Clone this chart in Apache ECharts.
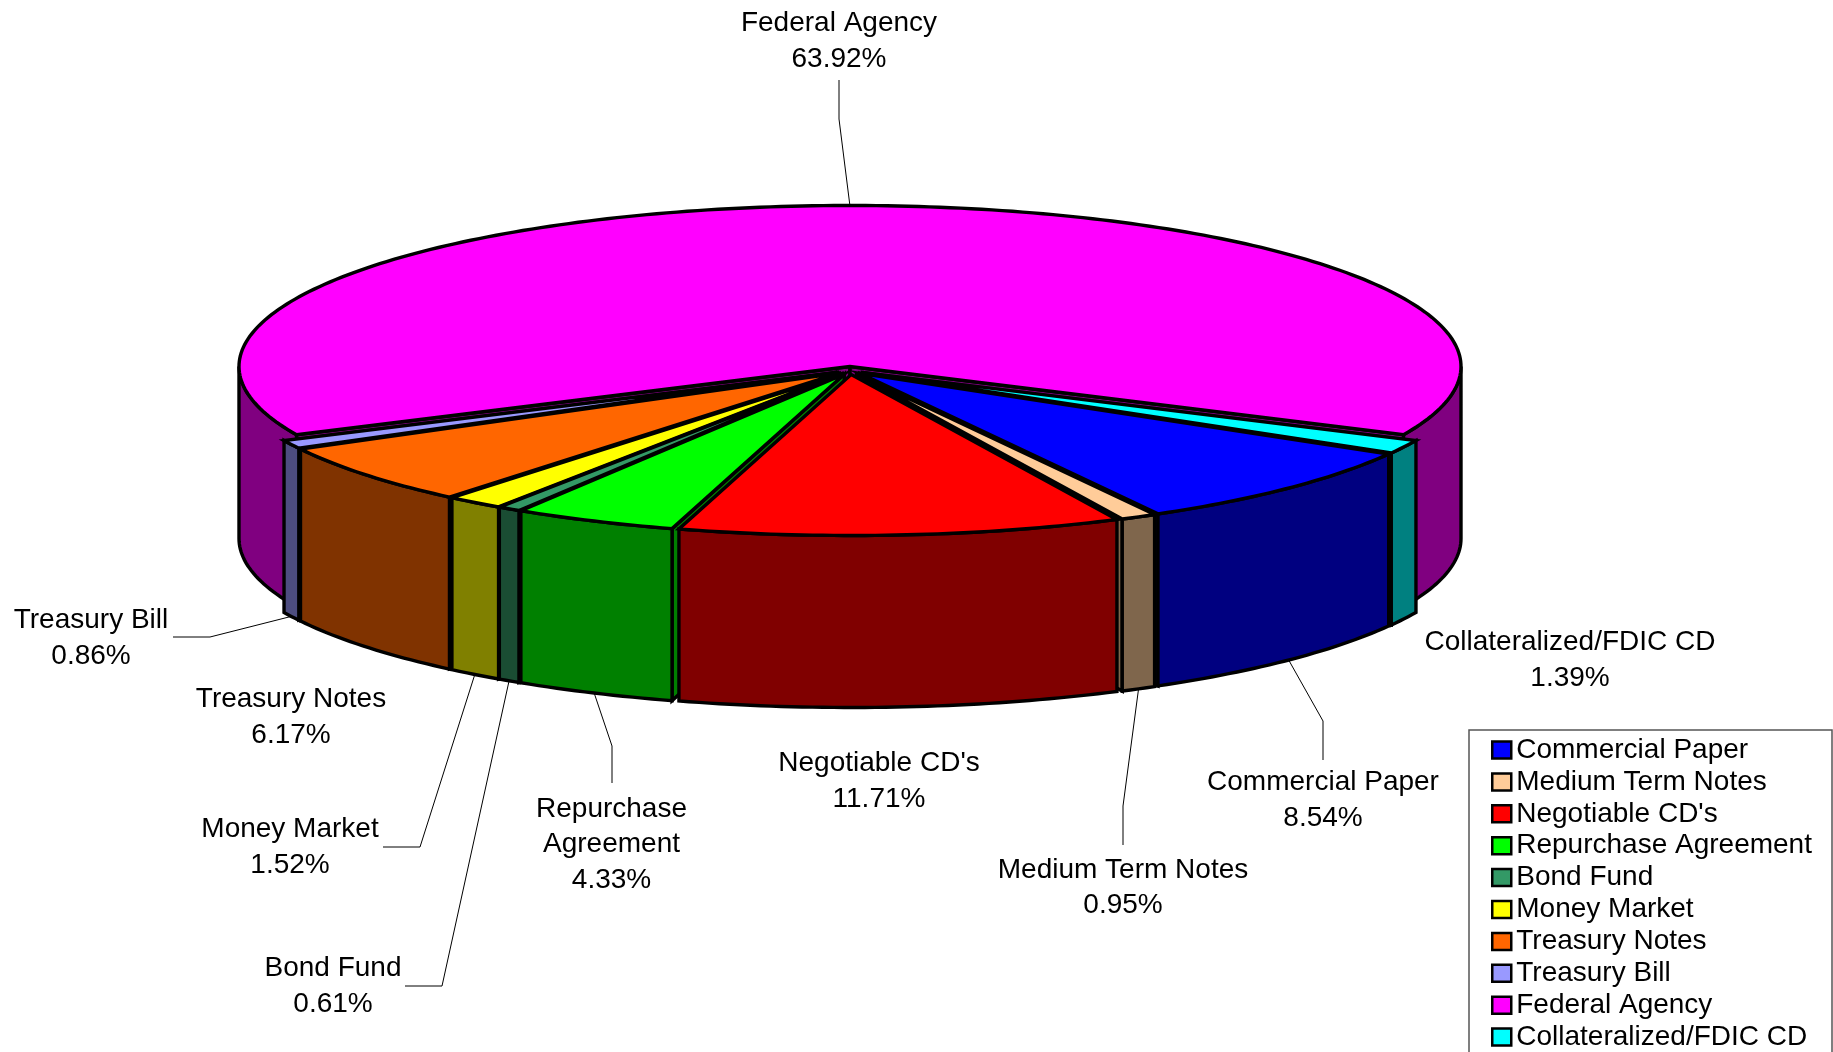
<!DOCTYPE html>
<html>
<head>
<meta charset="utf-8">
<title>Portfolio</title>
<style>
  html, body { margin: 0; padding: 0; background: #fff; }
  #chart { width: 1833px; height: 1052px; }
</style>
</head>
<body>
<div id="chart"></div>
<script src="https://cdn.jsdelivr.net/npm/echarts@6/dist/echarts.min.js"></script>
<script>
// legend order, which is also the clockwise order round the pie
var categories = ['Commercial Paper', 'Medium Term Notes', "Negotiable CD's", 'Repurchase Agreement', 'Bond Fund', 'Money Market', 'Treasury Notes', 'Treasury Bill', 'Federal Agency', 'Collateralized/FDIC CD']
var percents = [8.54, 0.95, 11.71, 4.33, 0.61, 1.52, 6.17, 0.86, 63.92, 1.39]
var topColors = ['#0000ff', '#ffcc99', '#ff0000', '#00ff00', '#339966', '#ffff00', '#ff6600', '#9999ff', '#ff00ff', '#00ffff']
var sideColors = ['#000080', '#7f664c', '#800000', '#008000', '#1a4d33', '#808000', '#803300', '#4d4d80', '#800080', '#008080']

// painter order, back to front
var drawOrder = [8, 9, 7, 0, 6, 1, 5, 4, 3, 2]

// label block centres and leader lines (leader end on the pie is worked out from the slice)
var labelNames = ['Commercial Paper', 'Medium Term Notes', "Negotiable CD's", 'Repurchase\nAgreement', 'Bond Fund', 'Money Market', 'Treasury Notes', 'Treasury Bill', 'Federal Agency', 'Collateralized/FDIC CD']
var labelX = [1323, 1123, 879, 611.5, 333, 290, 291, 91, 839, 1570]
var labelY = [800.5, 888, 781.5, 844.5, 986.5, 847.5, 717.5, 638.5, 41.5, 660.5]
var leaders = [
  [[1323, 760], [1323, 721]],
  [[1123, 845], [1123, 806]],
  null,
  [[612, 783], [612, 746]],
  [[405, 986], [442, 986]],
  [[383, 847], [420, 847]],
  null,
  [[173, 637], [210, 637]],
  [[839, 80], [839, 119]],
  null
]

var cx = 850, cy = 370.5, rx = 611, ry = 161, depth = 172
var explodeX = 14, explodeY = 4
var startAngle = 120.05
var edgeWidth = 3.4

var total = percents.reduce(function (a, b) { return a + b }, 0)
var angleFrom = []
var angleTo = []
percents.reduce(function (acc, v, i) {
  angleFrom[i] = acc
  angleTo[i] = acc + v / total * 360
  return angleTo[i]
}, startAngle)

function rad(d) { return d * Math.PI / 180 }

function sliceGeometry(i) {
  var mid = rad((angleFrom[i] + angleTo[i]) / 2)
  var ax = cx + explodeX * Math.sin(mid)
  var ay = cy - explodeY * Math.cos(mid)
  return {
    apex: [ax, ay],
    at: function (deg, drop) {
      return [ax + rx * Math.sin(rad(deg)), ay - ry * Math.cos(rad(deg)) + (drop || 0)]
    }
  }
}

function arcPoints(g, from, to, drop) {
  var pts = []
  var n = Math.max(2, Math.ceil(Math.abs(to - from)))
  for (var k = 0; k <= n; k++) {
    pts.push(g.at(from + (to - from) * k / n, drop))
  }
  return pts
}

function poly(points, fill) {
  return {
    type: 'polygon',
    shape: { points: points },
    style: { fill: fill, stroke: '#000', lineWidth: edgeWidth, lineJoin: 'miter' }
  }
}

function cutFace(g, deg, midPoint, fill) {
  var a = g.apex
  var c = g.at(deg)
  // the face shows only when the slice lies above the cut line
  var lineY = a[1] + (c[1] - a[1]) * (midPoint[0] - a[0]) / (c[0] - a[0])
  if (midPoint[1] >= lineY) return null
  return poly([a, c, [c[0], c[1] + depth], [a[0], a[1] + depth]], fill)
}

function renderSlice(i) {
  return function () {
    var g = sliceGeometry(i)
    var from = angleFrom[i], to = angleTo[i]
    var children = []
    var midDeg = (from + to) / 2

    var faces = [cutFace(g, from, g.at(midDeg), sideColors[i]), cutFace(g, to, g.at(midDeg), sideColors[i])]
    faces.forEach(function (f) { if (f) children.push(f) })

    // outer wall, front half of the rim only
    ;[[90, 270], [450, 630]].forEach(function (range) {
      var a = Math.max(from, range[0]), b = Math.min(to, range[1])
      if (a < b) {
        children.push(poly(arcPoints(g, a, b, 0).concat(arcPoints(g, b, a, depth)), sideColors[i]))
      }
    })

    children.push(poly([g.apex].concat(arcPoints(g, from, to, 0)), topColors[i]))

    if (leaders[i]) {
      var rimDrop = Math.cos(rad(midDeg)) < 0 ? depth : 0
      children.push({
        type: 'polyline',
        z2: 5,
        shape: { points: leaders[i].concat([g.at(midDeg, rimDrop)]) },
        style: { fill: null, stroke: '#000', lineWidth: 1 }
      })
    }

    children.push({
      type: 'text',
      z2: 6,
      x: labelX[i],
      y: labelY[i],
      style: {
        text: labelNames[i] + '\n' + percents[i].toFixed(2) + '%',
        align: 'center',
        verticalAlign: 'middle',
        fill: '#000',
        font: '28px "Liberation Sans", Arial, sans-serif',
        lineHeight: 35.5
      }
    })

    return { type: 'group', children: children }
  }
}

var chart = echarts.init(document.getElementById('chart'))

chart.setOption({
  animation: false,
  backgroundColor: '#fff',
  graphic: [{
    type: 'rect',
    silent: true,
    shape: { x: 1469, y: 730, width: 363, height: 400 },
    style: { fill: 'none', stroke: '#555', lineWidth: 1.5 }
  }],
  legend: {
    data: categories,
    orient: 'vertical',
    left: 1491,
    top: 736,
    padding: 0,
    itemWidth: 19,
    itemHeight: 17,
    itemGap: 3.9,
    icon: 'rect',
    selectedMode: false,
    itemStyle: { borderColor: '#000', borderWidth: 2.5 },
    textStyle: {
      color: '#000',
      fontFamily: '"Liberation Sans", Arial, sans-serif',
      fontSize: 28,
      lineHeight: 28
    }
  },
  series: drawOrder.map(function (i) {
    return {
      type: 'custom',
      name: categories[i],
      coordinateSystem: 'none',
      silent: true,
      itemStyle: { color: topColors[i] },
      data: [[percents[i]]],
      renderItem: renderSlice(i)
    }
  })
})
</script>
</body>
</html>
